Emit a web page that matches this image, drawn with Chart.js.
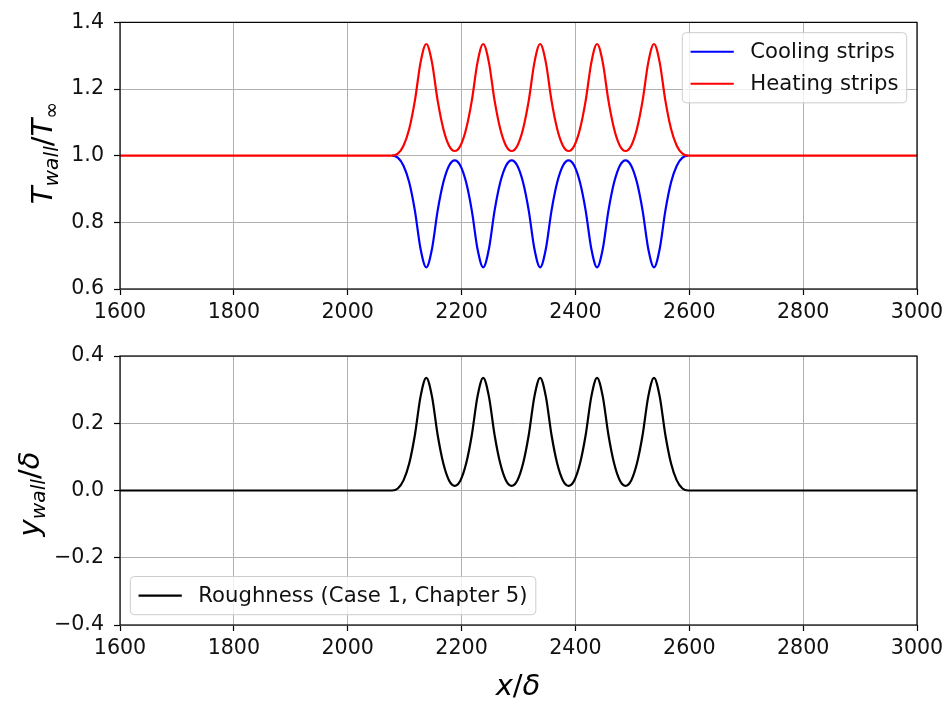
<!DOCTYPE html>
<html>
<head>
<meta charset="utf-8">
<script src="https://cdn.jsdelivr.net/npm/chart.js@4.4.1/dist/chart.umd.min.js"></script>
<style>
  body { margin: 0; background: #fff; }
  #wrap { position: relative; width: 951px; height: 703px; }
  canvas { position: absolute; left: 0; }
</style>
</head>
<body>
<div id="wrap">
  <canvas id="topChart" width="951" height="320" style="top:0px"></canvas>
  <canvas id="bottomChart" width="951" height="373" style="top:330px"></canvas>
</div>
<script>
// x positions (x/delta)
var xPos = [1600,
  2078, 2088, 2098, 2108, 2118, 2128, 2138, 2148, 2158, 2168, 2178,
  2188, 2198, 2208, 2218, 2228, 2238, 2248, 2258, 2268, 2278,
  2288, 2298, 2308, 2318, 2328, 2338, 2348, 2358, 2368, 2378,
  2388, 2398, 2408, 2418, 2428, 2438, 2448, 2458, 2468, 2478,
  2488, 2498, 2508, 2518, 2528, 2538, 2548, 2558, 2568, 2578, 2588, 2598,
  3000];

var cooling = [1.000,
  1.000, 0.994, 0.970, 0.920, 0.835, 0.720, 0.665, 0.720, 0.835, 0.920, 0.970,
  0.986, 0.970, 0.920, 0.835, 0.720, 0.665, 0.720, 0.835, 0.920, 0.970,
  0.986, 0.970, 0.920, 0.835, 0.720, 0.665, 0.720, 0.835, 0.920, 0.970,
  0.986, 0.970, 0.920, 0.835, 0.720, 0.665, 0.720, 0.835, 0.920, 0.970,
  0.986, 0.970, 0.920, 0.835, 0.720, 0.665, 0.720, 0.835, 0.920, 0.970, 0.994, 1.000,
  1.000];

var heating = [1.000,
  1.000, 1.006, 1.030, 1.080, 1.165, 1.280, 1.335, 1.280, 1.165, 1.080, 1.030,
  1.014, 1.030, 1.080, 1.165, 1.280, 1.335, 1.280, 1.165, 1.080, 1.030,
  1.014, 1.030, 1.080, 1.165, 1.280, 1.335, 1.280, 1.165, 1.080, 1.030,
  1.014, 1.030, 1.080, 1.165, 1.280, 1.335, 1.280, 1.165, 1.080, 1.030,
  1.014, 1.030, 1.080, 1.165, 1.280, 1.335, 1.280, 1.165, 1.080, 1.030, 1.006, 1.000,
  1.000];

var roughness = [0.000,
  0.000, 0.006, 0.030, 0.080, 0.165, 0.280, 0.335, 0.280, 0.165, 0.080, 0.030,
  0.014, 0.030, 0.080, 0.165, 0.280, 0.335, 0.280, 0.165, 0.080, 0.030,
  0.014, 0.030, 0.080, 0.165, 0.280, 0.335, 0.280, 0.165, 0.080, 0.030,
  0.014, 0.030, 0.080, 0.165, 0.280, 0.335, 0.280, 0.165, 0.080, 0.030,
  0.014, 0.030, 0.080, 0.165, 0.280, 0.335, 0.280, 0.165, 0.080, 0.030, 0.006, 0.000,
  0.000];

var xTicks = [1600, 1800, 2000, 2200, 2400, 2600, 2800, 3000];
var topYTicks = [0.6, 0.8, 1.0, 1.2, 1.4];
var bottomYTicks = [-0.4, -0.2, 0.0, 0.2, 0.4];

var FONT = '"DejaVu Sans", sans-serif';
var FS = 20.6;
var LEG_FS = 21.2;

function pts(ys) {
    return xPos.map(function (x, i) { return { x: x, y: ys[i] }; });
}

// full box round the axes, like matplotlib spines
var framePlugin = {
    id: 'frame',
    afterDatasetsDraw: function (chart) {
        var a = chart.chartArea, ctx = chart.ctx;
        ctx.save();
        ctx.strokeStyle = '#000';
        ctx.lineWidth = 1.2;
        ctx.strokeRect(a.left, a.top, a.right - a.left, a.bottom - a.top);
        ctx.restore();
    }
};

// legend box drawn inside the plot area
var legendPlugin = {
    id: 'mplLegend',
    afterDraw: function (chart, args, opts) {
        var ctx = chart.ctx, a = chart.chartArea;
        var sets = chart.data.datasets;
        ctx.save();
        ctx.font = LEG_FS + 'px ' + FONT;
        var tw = 0;
        sets.forEach(function (d) { tw = Math.max(tw, ctx.measureText(d.label).width); });
        var pad = 0.4 * FS, hl = 2.1 * FS, htp = 0.8 * FS, rowH = 21.7, sp = 0.5 * FS, gap = 0.5 * FS;
        var w = pad * 2 + hl + htp + tw;
        var h = pad * 2 + sets.length * rowH + (sets.length - 1) * sp;
        var x0 = opts.corner === 'ne' ? a.right - gap - w : a.left + gap;
        var y0 = opts.corner === 'ne' ? a.top + gap : a.bottom - gap - h;
        ctx.beginPath();
        ctx.roundRect(x0, y0, w, h, 4);
        ctx.fillStyle = 'rgba(255,255,255,0.8)';
        ctx.fill();
        ctx.strokeStyle = '#cccccc';
        ctx.lineWidth = 1;
        ctx.stroke();
        sets.forEach(function (d, i) {
            var cy = y0 + pad + i * (rowH + sp) + rowH / 2;
            ctx.strokeStyle = d.borderColor;
            ctx.lineWidth = d.borderWidth;
            ctx.beginPath();
            ctx.moveTo(x0 + pad, cy);
            ctx.lineTo(x0 + pad + hl, cy);
            ctx.stroke();
            ctx.fillStyle = '#111';
            ctx.textAlign = 'left';
            ctx.textBaseline = 'middle';
            ctx.fillText(d.label, x0 + pad + hl + htp, cy + 1);
        });
        ctx.restore();
    }
};

// axis titles with subscripts (mathtext look)
function drawMath(ctx, parts, x, y, size, rotated) {
    ctx.save();
    ctx.translate(x, y);
    if (rotated) ctx.rotate(-Math.PI / 2);
    var total = 0;
    parts.forEach(function (p) {
        ctx.font = (p.i ? 'italic ' : '') + (size * p.s) + 'px ' + FONT;
        total += ctx.measureText(p.t).width;
    });
    var cx = -total / 2;
    ctx.fillStyle = '#000';
    ctx.textBaseline = 'alphabetic';
    ctx.textAlign = 'left';
    parts.forEach(function (p) {
        ctx.font = (p.i ? 'italic ' : '') + (size * p.s) + 'px ' + FONT;
        ctx.fillText(p.t, cx, p.d * size);
        cx += ctx.measureText(p.t).width;
    });
    ctx.restore();
}

var mathPlugin = {
    id: 'mathLabels',
    afterDraw: function (chart, args, opts) {
        (opts.labels || []).forEach(function (l) {
            drawMath(chart.ctx, l.parts, l.x, l.y, 29, l.rotated);
        });
    }
};

function makeChart(id, datasets, yMin, yMax, yTicks, xAxisHeight, padTop, legendCorner, labels) {
    var ctx = document.getElementById(id).getContext('2d');
    return new Chart(ctx, {
        type: 'line',
        data: { datasets: datasets },
        plugins: [framePlugin, legendPlugin, mathPlugin],
        options: {
            responsive: false,
            animation: false,
            devicePixelRatio: 1,
            layout: { padding: { top: padTop, right: 34, left: 0, bottom: 0 } },
            elements: { point: { radius: 0 } },
            plugins: {
                legend: { display: false },
                tooltip: { enabled: false },
                mplLegend: { corner: legendCorner },
                mathLabels: { labels: labels }
            },
            scales: {
                x: {
                    type: 'linear',
                    min: 1600,
                    max: 3000,
                    afterBuildTicks: function (s) { s.ticks = xTicks.map(function (v) { return { value: v }; }); },
                    afterFit: function (s) { s.height = xAxisHeight; },
                    border: { display: false },
                    grid: { color: '#b0b0b0', lineWidth: 1, tickColor: '#000', tickLength: 6, tickWidth: 1.2 },
                    ticks: {
                        font: { family: FONT, size: FS },
                        color: '#111',
                        padding: 5,
                        maxRotation: 0,
                        autoSkip: false,
                        callback: function (v) { return String(v); }
                    }
                },
                y: {
                    min: yMin,
                    max: yMax,
                    afterBuildTicks: function (s) { s.ticks = yTicks.map(function (v) { return { value: v }; }); },
                    afterFit: function (s) { s.width = 120; },
                    border: { display: false },
                    grid: { color: '#b0b0b0', lineWidth: 1, tickColor: '#000', tickLength: 6, tickWidth: 1.2 },
                    ticks: {
                        font: { family: FONT, size: FS },
                        color: '#111',
                        padding: 10,
                        autoSkip: false,
                        callback: function (v) { return v.toFixed(1).replace('-', '\u2212'); }
                    }
                }
            }
        }
    });
}

makeChart('topChart', [
    { label: 'Cooling strips', data: pts(cooling), borderColor: '#0000ff', borderWidth: 2.2,
      cubicInterpolationMode: 'monotone', fill: false, order: 1,
      // flat parts sit under the red line anyway; skip them so no blue fringe shows
      segment: {
          borderColor: function (c) {
              return (c.p0.parsed.y === 1 && c.p1.parsed.y === 1) ? 'rgba(0,0,0,0)' : undefined;
          }
      } },
    { label: 'Heating strips', data: pts(heating), borderColor: '#ff0000', borderWidth: 2.2,
      cubicInterpolationMode: 'monotone', fill: false, order: 0 }
], 0.6, 1.4, topYTicks, 31, 19, 'ne', [
    { rotated: true, x: 52, y: 153, parts: [
        { t: 'T', i: true, s: 1, d: 0 },
        { t: 'wall', i: true, s: 0.7, d: 0.22 },
        { t: '/', i: false, s: 1, d: 0 },
        { t: 'T', i: true, s: 1, d: 0 },
        { t: '\u221e', i: false, s: 0.7, d: 0.22 }
    ] }
]);

makeChart('bottomChart', [
    { label: 'Roughness (Case 1, Chapter 5)', data: pts(roughness), borderColor: '#000000', borderWidth: 2.2,
      cubicInterpolationMode: 'monotone', fill: false }
], -0.4, 0.4, bottomYTicks, 78, 26, 'sw', [
    { rotated: true, x: 39, y: 164, parts: [
        { t: 'y', i: true, s: 1, d: 0 },
        { t: 'wall', i: true, s: 0.7, d: 0.22 },
        { t: '/', i: false, s: 1, d: 0 },
        { t: '\u03b4', i: true, s: 1, d: 0 }
    ] },
    { rotated: false, x: 518, y: 365, parts: [
        { t: 'x', i: true, s: 1, d: 0 },
        { t: '/', i: false, s: 1, d: 0 },
        { t: '\u03b4', i: true, s: 1, d: 0 }
    ] }
]);
</script>
</body>
</html>
